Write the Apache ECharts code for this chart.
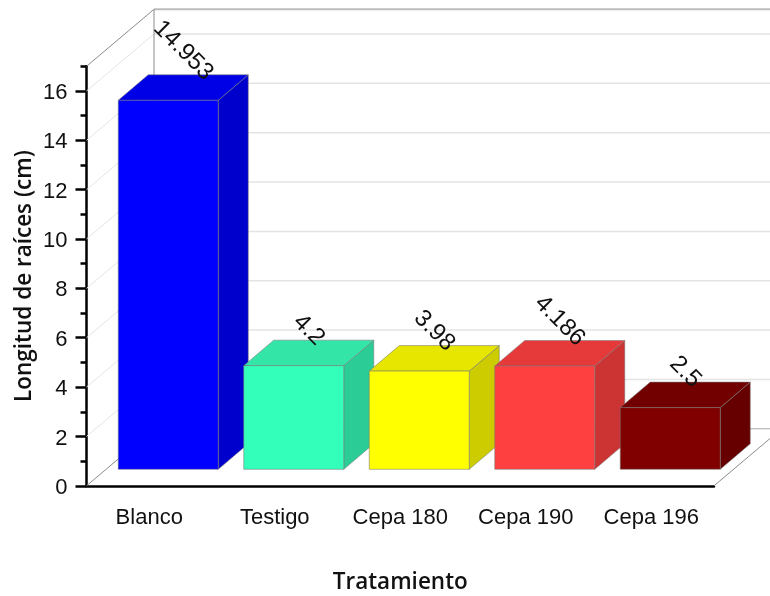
<!DOCTYPE html>
<html><head><meta charset="utf-8">
<style>html,body{margin:0;padding:0;background:#fff}#c{width:770px;height:596px}</style>
<script src="https://cdn.jsdelivr.net/npm/echarts@6/dist/echarts.min.js"></script>
</head><body><div id="c"></div>
<script>
const categories = ['Blanco','Testigo','Cepa 180','Cepa 190','Cepa 196'];
const values = [14.953,4.2,3.98,4.186,2.5];
const frontColors = ['#0000ff','#33ffbb','#ffff00','#ff4040','#800000'];
const topColors = ['#0000e6','#33e6a8','#e6e600','#e63a3a','#730000'];
const sideColors = ['#0000cc','#2ccc96','#cccc00','#cc3333','#660000'];
const majorTicks = [0,2,4,6,8,10,12,14,16];
const minorTicks = [1,3,5,7,9,11,13,15,17];
const wallLines = [2,4,6,8,10,12,14,16];
const yMax = 17;

const WALL_DX = 67.5, WALL_DY = 57;      // full depth of the box
const BAR_SHIFT_X = 19, BAR_SHIFT_Y = 16.5; // front face of the bars inside the box
const BAR_DX = 30, BAR_DY = 25.5, BAR_W = 100;
const LABEL_FONT = 24;

const textFont = 'Liberation Sans';
const chart = echarts.init(document.getElementById('c'), null, {renderer:'canvas'});

function line(x1,y1,x2,y2,color,w){
  return {type:'line',shape:{x1,y1,x2,y2},style:{stroke:color,lineWidth:w,fill:null},silent:true};
}
function poly(points,fill){
  return {type:'polygon',shape:{points},style:{fill,stroke:'rgba(120,120,120,0.55)',lineWidth:1}};
}
function renderWall(params,api){
  const cs = params.coordSys, v = api.value(0), y = api.coord([0,v])[1];
  const l = cs.x, r = cs.x+cs.width;
  return {type:'group',children:[
    line(l,y,l+WALL_DX,y-WALL_DY,'#e4e4e4',1),
    line(l+WALL_DX,y-WALL_DY,r+WALL_DX,y-WALL_DY,'#e4e4e4',1.5)
  ]};
}
function renderFrame(params,api){
  const cs = params.coordSys;
  const y0 = api.coord([0,0])[1], yt = api.coord([0,yMax])[1];
  const l = cs.x, r = cs.x+cs.width;
  return {type:'group',children:[
    line(l,yt,l+WALL_DX,yt-WALL_DY,'#8c8c8c',1),
    line(l+WALL_DX,yt-WALL_DY,r+WALL_DX,yt-WALL_DY,'#bcbcbc',2),
    line(l+WALL_DX,yt-WALL_DY,l+WALL_DX,y0-WALL_DY,'#8c8c8c',1),
    line(l,y0,l+WALL_DX,y0-WALL_DY,'#8c8c8c',1),
    line(l+WALL_DX,y0-WALL_DY,r+WALL_DX,y0-WALL_DY,'#a8a8a8',1),
    line(r,y0,r+WALL_DX,y0-WALL_DY,'#8c8c8c',1)
  ]};
}
function renderBar(params,api){
  const i = api.value(0), v = api.value(1);
  const c = api.coord([i,0]), t = api.coord([i,v]);
  const x0 = c[0]-BAR_W/2+BAR_SHIFT_X, x1 = x0+BAR_W;
  const yb = c[1]-BAR_SHIFT_Y, yt = t[1]-BAR_SHIFT_Y;
  return {type:'group',children:[
    poly([[x1,yb],[x1+BAR_DX,yb-BAR_DY],[x1+BAR_DX,yt-BAR_DY],[x1,yt]],sideColors[i]),
    poly([[x0,yt],[x0+BAR_DX,yt-BAR_DY],[x1+BAR_DX,yt-BAR_DY],[x1,yt]],topColors[i]),
    poly([[x0,yb],[x1,yb],[x1,yt],[x0,yt]],frontColors[i])
  ]};
}
function renderLabel(params,api){
  const i = api.value(0), v = api.value(1);
  const c = api.coord([i,0]), t = api.coord([i,v]);
  const s = String(v);
  const cx = c[0]+BAR_SHIFT_X+BAR_DX/2;
  const faceY = t[1]-BAR_SHIFT_Y-BAR_DY/2;
  const len = ([...s].reduce((a,ch)=>a+(ch==='.'?0.278:0.556),0)+0.72)*LABEL_FONT;
  const half = len*Math.SQRT1_2/2;
  return {type:'text',x:cx,y:faceY-5-half,rotation:-Math.PI/4,
    style:{text:s,x:0,y:0,fill:'#111',font:LABEL_FONT+'px "'+textFont+'"',align:'center',verticalAlign:'middle'},silent:true};
}
const axisLabelBase = {color:'#111',fontFamily:textFont,fontSize:22};
const titleStyle = {color:'#111',fontFamily:'Open Sans',fontWeight:600,fontSize:22.5};
const option = {
  animation:false,backgroundColor:'#fff',
  grid:{left:86.5,top:66.3,width:627.5,height:419.5,containLabel:false,outerBoundsMode:'none'},
  xAxis:[
    {type:'category',data:categories,
     axisLine:{lineStyle:{color:'#000',width:2.5}},
     axisTick:{alignWithLabel:true,length:11,lineStyle:{color:'#000',width:2.5}},
     axisLabel:{...axisLabelBase,margin:21,interval:0},
     name:'Tratamiento',nameLocation:'middle',nameGap:85,nameMoveOverlap:false,
     nameTextStyle:titleStyle},
    {type:'category',data:categories,
     axisLine:{show:false},
     axisTick:{length:6,lineStyle:{color:'#000',width:2.5}},
     axisLabel:{show:false}}
  ],
  yAxis:[
    {type:'value',min:0,max:yMax,
     axisLine:{show:true,lineStyle:{color:'#000',width:2.5}},
     axisTick:{show:true,length:11,customValues:majorTicks,lineStyle:{color:'#000',width:2.5}},
     axisLabel:{...axisLabelBase,margin:19,customValues:majorTicks,
       formatter:'{n|{value}}',rich:{n:{color:'#111',fontFamily:textFont,fontSize:22,padding:[4,0,0,0]}}},
     splitLine:{show:false},
     name:'Longitud de raíces (cm)',nameLocation:'middle',nameGap:50,nameMoveOverlap:false,
     nameTextStyle:titleStyle},
    {type:'value',min:0,max:yMax,position:'left',
     axisLine:{show:false},
     axisTick:{show:true,length:6,customValues:minorTicks,lineStyle:{color:'#000',width:2.5}},
     axisLabel:{show:false},splitLine:{show:false}}
  ],
  series:[
    {type:'custom',name:'wall',z:1,silent:true,renderItem:renderWall,data:wallLines.map(v=>[v]),encode:{y:0}},
    {type:'custom',name:'frame',z:2,silent:true,renderItem:renderFrame,data:[[0]],encode:{y:0}},
    {type:'custom',name:'bars',z:3,silent:true,renderItem:renderBar,data:values.map((v,i)=>[i,v]),encode:{x:0,y:1}},
    {type:'custom',name:'labels',z:4,silent:true,renderItem:renderLabel,data:values.map((v,i)=>[i,v]),encode:{x:0,y:1}}
  ]
};
chart.setOption(option);
</script></body></html>
